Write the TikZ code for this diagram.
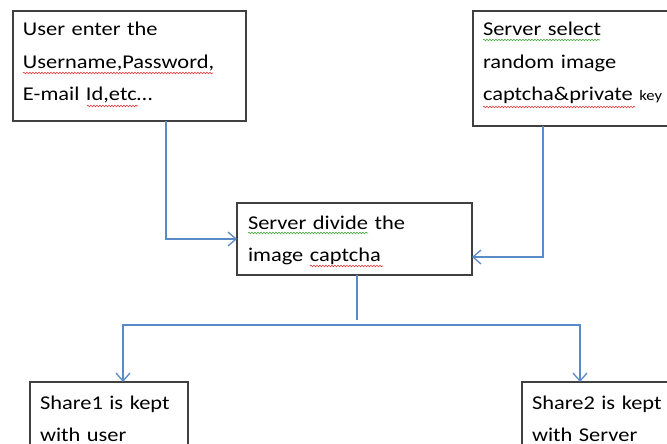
\documentclass[tikz,border=0pt]{standalone}
\usepackage{fontspec}
\setmainfont{Carlito}[FakeStretch=1.15]
\usetikzlibrary{arrows.meta, decorations.pathmorphing}
\definecolor{boxline}{RGB}{64,64,64}
\definecolor{linkblue}{RGB}{91,139,199}
\definecolor{spellred}{RGB}{230,60,60}
\definecolor{spellgreen}{RGB}{70,170,60}

\begin{document}
\begin{tikzpicture}[x=1pt, y=-1pt,
  box/.style={draw=boxline, line width=1.3pt, anchor=north west, outer sep=0pt,
    inner xsep=10pt, inner ysep=0pt, align=left, text height=25pt,
    font=\fontsize{19.5}{32.5}\selectfont},
  link/.style={draw=linkblue, line width=1.3pt},
  arr/.style={link, -{Straight Barb[length=8pt, width=14pt]}},
  wavy/.style={decorate, decoration={snake, amplitude=0.8pt, segment length=3pt}, line width=0.6pt}]
  \clip (0,0) rectangle (667,444);
  % boxes
  \node[box, text width=213pt, text depth=85pt] (user) at (13,11)
    {User enter the\\Username,Password,\\E-mail Id,etc…};
  \node[box, text width=200pt, text depth=90pt] (select) at (473,11)
    {Server select\\random image\\captcha\&private {\fontsize{14.5}{14.5}\selectfont key}};
  \node[box, inner xsep=11pt, text width=213pt, text height=26pt, text depth=46pt] (divide) at (237,203)
    {Server divide the\\image captcha};
  \node[box, text width=138pt, text height=27pt, text depth=60pt] (share1) at (30,382)
    {Share1 is kept\\with user};
  \node[box, text width=140pt, text height=27pt, text depth=60pt] (share2) at (522,382)
    {Share2 is kept\\with Server};
  % connectors
  \draw[arr] ([xshift=36.5pt]user.south) |- (divide.west);
  \draw[arr] ([xshift=-40pt]select.south) |- ([yshift=-18pt]divide.east);
  \draw[link] ([xshift=2.5pt]divide.south) -- ([xshift=2.5pt,yshift=-45pt]divide.south);
  \coordinate (fork) at (357,325);
  \draw[arr] (fork) -| ([xshift=14pt]share1.north);
  \draw[arr] (fork) -| ([xshift=-22pt]share2.north);
  % spell-check marks
  \draw[wavy, spellred] (23,73) -- (213,73);
  \draw[wavy, spellred] (87,106) -- (138,106);
  \draw[wavy, spellgreen] (483,40) -- (600,40);
  \draw[wavy, spellred] (483,107) -- (635,107);
  \draw[wavy, spellgreen] (248,233) -- (368,233);
  \draw[wavy, spellred] (310,266) -- (383,266);
\end{tikzpicture}
\end{document}
